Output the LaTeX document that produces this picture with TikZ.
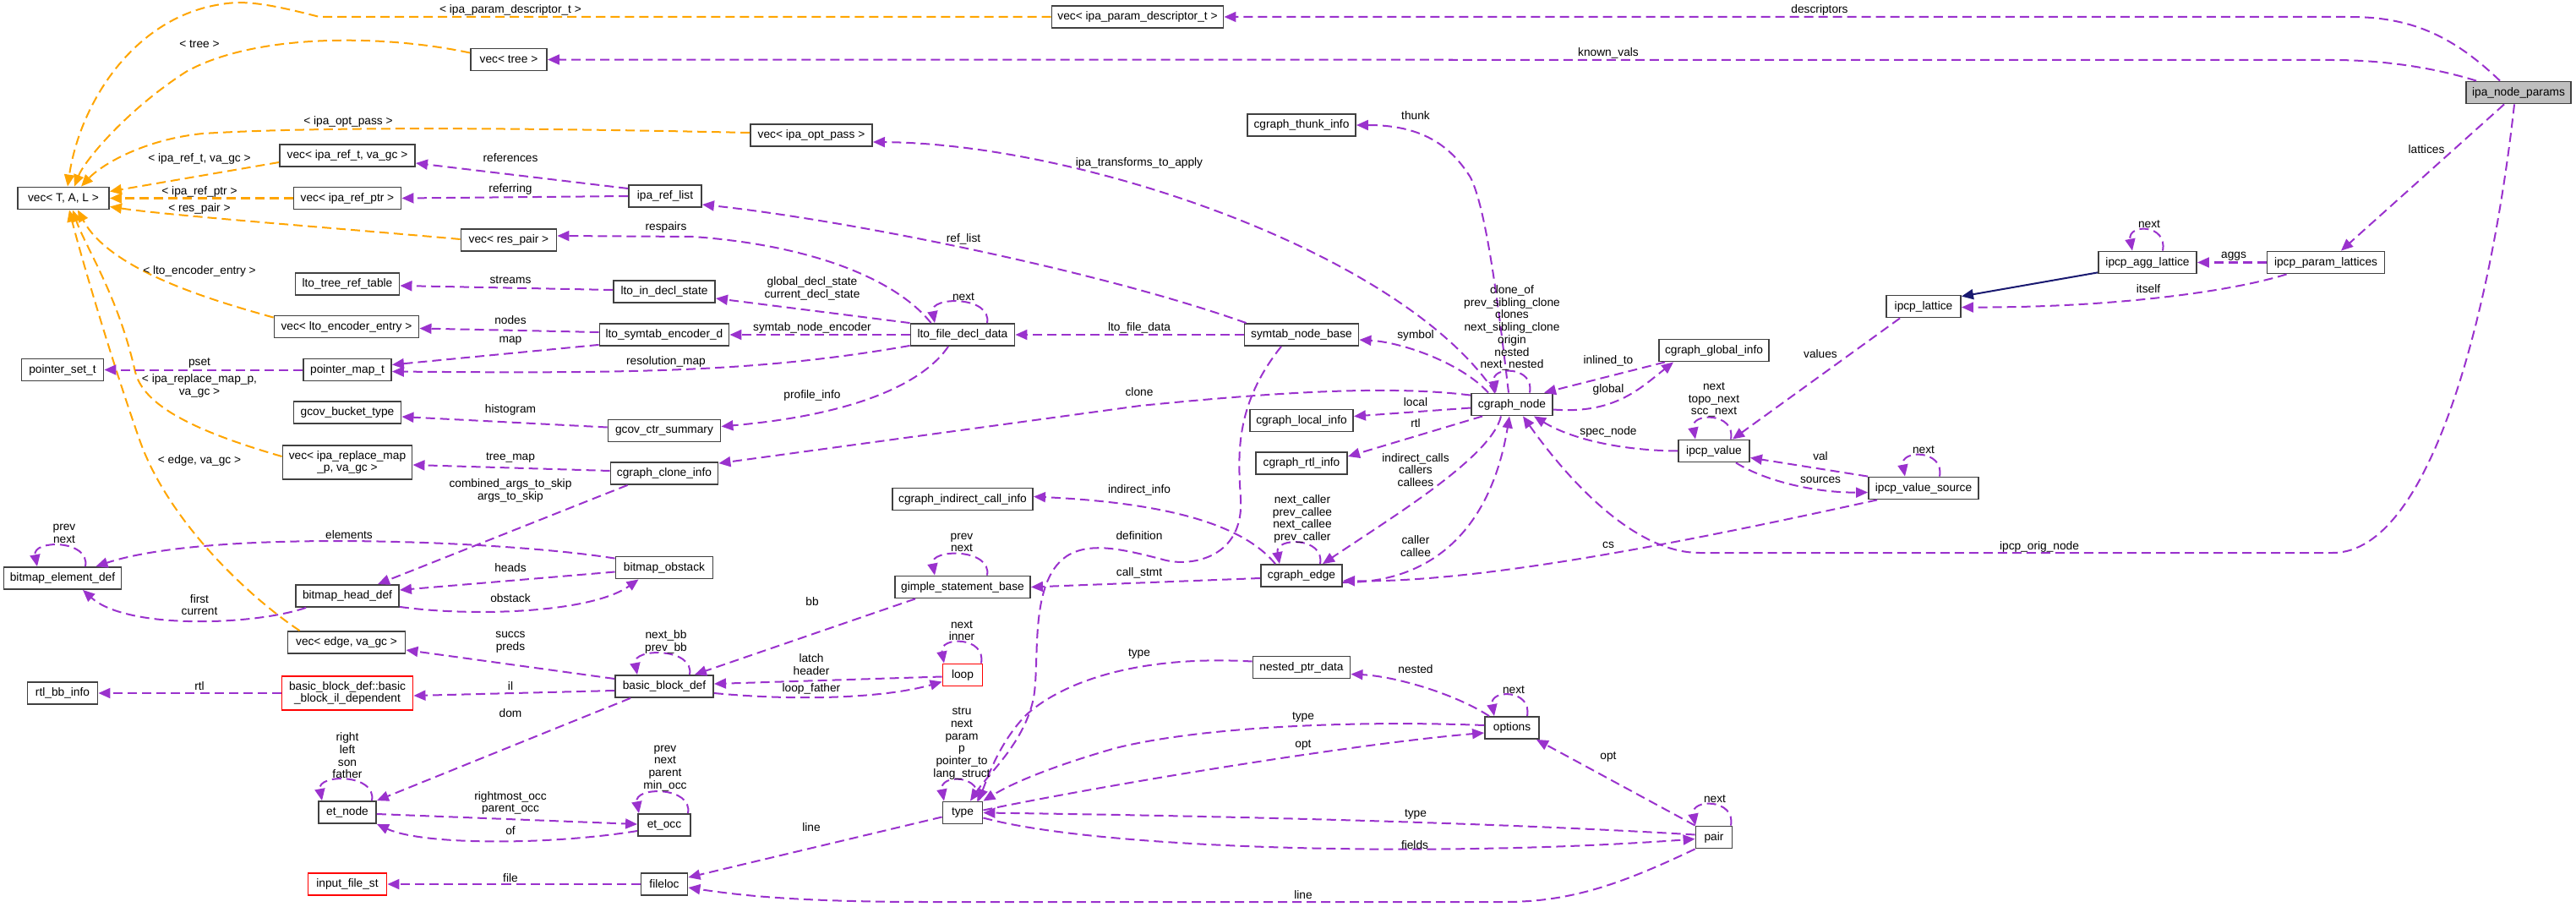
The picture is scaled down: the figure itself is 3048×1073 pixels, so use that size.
\documentclass[tikz,border=0pt]{standalone}
\usepackage{fontspec}
\newfontfamily\dxfont{Liberation Sans}
\usetikzlibrary{arrows.meta,calc}
\definecolor{usecol}{HTML}{9A32CD}
\definecolor{tplcol}{HTML}{FFA500}
\definecolor{inhcol}{HTML}{191970}
\newcommand{\dxsize}{\dxfont\fontsize{3.9}{4.18}\selectfont}

\begin{document}
\begin{tikzpicture}[
    x=0.01cm, y=-0.01cm,
    classbox/.style={draw=black!75, line width=0.018cm, fill=white, font=\dxsize, minimum height=0.26cm, inner sep=0pt, align=center},
    focusbox/.style={classbox, fill=black!25},
    undocbox/.style={classbox, draw=red},
    member/.style={draw=usecol, line width=0.02cm, dash pattern=on 0.11cm off 0.06cm, -{Triangle[length=0.14cm, width=0.12cm]}},
    tmpl/.style={member, draw=tplcol},
    inherit/.style={draw=inhcol, line width=0.02cm, -{Triangle[length=0.14cm, width=0.12cm]}},
    elabel/.style={font=\dxsize, inner sep=0pt, align=center},
  ]
    \useasboundingbox (0,0) rectangle (3048,1073);
    % classes
    \node[focusbox, minimum width=1.24cm] (inp) at (2980,109.5) {ipa\_node\_params};
    \node[classbox, minimum width=2.03cm] (vipd) at (1346,20) {vec< ipa\_param\_descriptor\_t >};
    \node[classbox, minimum width=0.90cm] (vtree) at (602,70.5) {vec< tree >};
    \node[classbox, minimum width=1.08cm] (vtal) at (75,234.5) {vec< T, A, L >};
    \node[classbox, minimum width=1.44cm] (vopt) at (960,160) {vec< ipa\_opt\_pass >};
    \node[classbox, minimum width=1.60cm] (vref) at (411,184) {vec< ipa\_ref\_t, va\_gc >};
    \node[classbox, minimum width=1.27cm] (vrptr) at (411,234.5) {vec< ipa\_ref\_ptr >};
    \node[classbox, minimum width=1.13cm] (vres) at (602,284) {vec< res\_pair >};
    \node[classbox, minimum width=1.23cm] (trt) at (411,336) {lto\_tree\_ref\_table};
    \node[classbox, minimum width=0.86cm] (irl) at (787,232) {ipa\_ref\_list};
    \node[classbox, minimum width=1.20cm] (lids) at (786,345) {lto\_in\_decl\_state};
    \node[classbox, minimum width=1.28cm] (thunk) at (1540,148) {cgraph\_thunk\_info};
    \node[classbox, minimum width=1.16cm] (agg) at (2541,310.5) {ipcp\_agg\_lattice};
    \node[classbox, minimum width=1.39cm] (ppl) at (2752,310.5) {ipcp\_param\_lattices};
    \node[classbox, minimum width=0.88cm] (lat) at (2276,362.5) {ipcp\_lattice};
    \node[classbox, minimum width=1.71cm] (venc) at (410,386.5) {vec< lto\_encoder\_entry >};
    \node[classbox, minimum width=0.97cm] (pset) at (74,437.5) {pointer\_set\_t};
    \node[classbox, minimum width=1.04cm] (pmap) at (411,437.5) {pointer\_map\_t};
    \node[classbox, minimum width=1.27cm] (gbt) at (411,488) {gcov\_bucket\_type};
    \node[classbox, minimum width=1.53cm, minimum height=0.40cm] (vrepl) at (411,547) {vec< ipa\_replace\_map\\\_p, va\_gc >};
    \node[classbox, minimum width=1.39cm] (bed) at (74,684) {bitmap\_element\_def};
    \node[classbox, minimum width=1.22cm] (bhd) at (411,705) {bitmap\_head\_def};
    \node[classbox, minimum width=1.53cm] (lsed) at (786,396) {lto\_symtab\_encoder\_d};
    \node[classbox, minimum width=1.33cm] (gcs) at (786,509.5) {gcov\_ctr\_summary};
    \node[classbox, minimum width=1.27cm] (gci) at (786,560) {cgraph\_clone\_info};
    \node[classbox, minimum width=1.15cm] (bob) at (786,671.5) {bitmap\_obstack};
    \node[classbox, minimum width=1.23cm] (lfdd) at (1139,396) {lto\_file\_decl\_data};
    \node[classbox, minimum width=1.35cm] (snb) at (1540,396) {symtab\_node\_base};
    \node[classbox, minimum width=1.66cm] (icinfo) at (1139,590.5) {cgraph\_indirect\_call\_info};
    \node[classbox, minimum width=1.60cm] (gsb) at (1139,694.5) {gimple\_statement\_base};
    \node[classbox, minimum width=1.22cm] (cli) at (1540,497.5) {cgraph\_local\_info};
    \node[classbox, minimum width=1.08cm] (cri) at (1540,548) {cgraph\_rtl\_info};
    \node[classbox, minimum width=0.96cm] (cedge) at (1540,681) {cgraph\_edge};
    \node[classbox, minimum width=0.96cm] (cnode) at (1789,478.5) {cgraph\_node};
    \node[classbox, minimum width=1.30cm] (cgi) at (2028,414.5) {cgraph\_global\_info};
    \node[classbox, minimum width=0.84cm] (ival) at (2028,533.5) {ipcp\_value};
    \node[classbox, minimum width=1.30cm] (ivs) at (2276,577.5) {ipcp\_value\_source};
    \node[classbox, minimum width=1.39cm] (veg) at (410,760) {vec< edge, va\_gc >};
    \node[classbox, minimum width=0.83cm] (rbi) at (74,820) {rtl\_bb\_info};
    \node[undocbox, minimum width=1.55cm, minimum height=0.40cm] (bbil) at (411,820) {basic\_block\_def::basic\\\_block\_il\_dependent};
    \node[classbox, minimum width=0.68cm] (etn) at (411,961) {et\_node};
    \node[undocbox, minimum width=0.93cm] (ifs) at (411,1046) {input\_file\_st};
    \node[classbox, minimum width=1.16cm] (bbd) at (786,812) {basic\_block\_def};
    \node[classbox, minimum width=0.62cm] (eto) at (786,976) {et\_occ};
    \node[classbox, minimum width=0.55cm] (floc) at (786,1046) {fileloc};
    \node[undocbox, minimum width=0.47cm] (lp) at (1139,798.5) {loop};
    \node[classbox, minimum width=0.47cm] (ty) at (1139,961.5) {type};
    \node[classbox, minimum width=1.15cm] (npd) at (1540,789.5) {nested\_ptr\_data};
    \node[classbox, minimum width=0.64cm] (opts) at (1789,861) {options};
    \node[classbox, minimum width=0.43cm] (pr) at (2028,990.5) {pair};

    % template instances
    \draw[tmpl] (vipd.west) -- (378,20) .. controls (320,5) and (290,0) .. (262,5) .. controls (160,20) and (95,120) .. ($(vtal.north)+(5,0)$);
    \draw[tmpl] ($(vtree.west)+(0,-8)$) .. controls (450,40) and (300,40) .. (220,85) .. controls (150,130) and (100,190) .. ($(vtal.north)+(13,0)$);
    \draw[tmpl] ($(vopt.west)+(0,-3)$) .. controls (700,153) and (400,148) .. (240,158) .. controls (170,165) and (120,195) .. ($(vtal.north)+(21,0)$);
    \draw[tmpl] ($(vref.west)+(0,8)$) -- ($(vtal.east)+(0,-8)$);
    \draw[tmpl] (vrptr.west) -- (vtal.east);
    \draw[tmpl] ($(vres.west)+(0,-1)$) .. controls (400,270) and (200,255) .. ($(vtal.east)+(0,10)$);
    \draw[tmpl] ($(venc.north west)+(0,3)$) .. controls (250,355) and (130,320) .. ($(vtal.south)+(17,0)$);
    \draw[tmpl] ($(vrepl.west)+(0,-7)$) .. controls (230,510) and (170,480) .. (160,440) .. controls (140,350) and (100,290) .. ($(vtal.south)+(11,0)$);
    \draw[tmpl] ($(veg.north west)+(15,0)$) .. controls (300,710) and (200,620) .. (165,520) .. controls (130,420) and (95,300) .. ($(vtal.south)+(7,0)$);

    % ipa_node_params and lattices
    \draw[member] ($(inp.north)+(-22,0)$) .. controls (2900,40) and (2850,20) .. (2780,20) -- (vipd.east);
    \draw[member] ($(inp.north west)+(13,0)$) .. controls (2880,80) and (2820,71) .. (2760,71) -- (vtree.east);
    \draw[member] ($(inp.south)+(-17,0)$) -- ($(ppl.north)+(18,0)$);
    \draw[member] ($(inp.south)+(-5,0)$) .. controls (2950,350) and (2880,654) .. (2760,654) -- (2011,654) .. controls (1930,654) and (1850,560) .. ($(cnode.south)+(13,0)$);
    \draw[member] (ppl.west) -- (agg.east);
    \draw[inherit] ($(agg.south west)+(0,-2)$) -- ($(lat.north east)+(0,2)$);
    \draw[member] ($(ppl.south west)+(24,0)$) .. controls (2640,345) and (2500,364) .. ($(lat.east)+(0,1)$);
    \draw[member] ($(lat.south west)+(17,0)$) -- ($(ival.north)+(22,0)$);
    \draw[member] (ival.west) .. controls (1920,533) and (1860,520) .. ($(cnode.south)+(26,0)$);
    \draw[member] (ivs.north west) -- ($(ival.east)+(0,8)$);
    \draw[member] ($(ival.south east)+(-17,0)$) .. controls (2090,570) and (2150,583) .. ($(ivs.west)+(0,5)$);
    \draw[member] ($(ivs.south west)+(11,0)$) .. controls (2000,640) and (1750,690) .. ($(cedge.east)+(0,6)$);

    % cgraph_node
    \draw[member] ($(cnode.north)+(-4,0)$) .. controls (1775,380) and (1760,250) .. (1740,210) .. controls (1715,170) and (1680,148) .. (thunk.east);
    \draw[member] ($(cnode.north)+(-20,0)$) .. controls (1660,300) and (1280,170) .. ($(vopt.east)+(0,8)$);
    \draw[member] ($(cnode.north)+(-28,0)$) .. controls (1730,430) and (1660,405) .. ($(snb.east)+(0,6)$);
    \draw[member] ($(cgi.south west)+(8,0)$) -- ($(cnode.north)+(38,0)$);
    \draw[member] ($(cnode.east)+(0,6)$) .. controls (1910,490) and (1940,460) .. ($(cgi.south west)+(18,0)$);
    \draw[member] ($(cnode.west)+(0,4)$) -- ($(cli.east)+(0,-5)$);
    \draw[member] ($(cnode.south west)+(14,0)$) -- ($(cri.east)+(0,-8)$);
    \draw[member] ($(cnode.south)+(-13,0)$) .. controls (1765,540) and (1650,610) .. ($(cedge.north)+(25,0)$);
    \draw[member] ($(cedge.east)+(0,8)$) .. controls (1700,690) and (1765,620) .. ($(cnode.south)+(-3,0)$);
    \draw[member] ($(cnode.north west)+(0,3)$) .. controls (1640,455) and (1500,465) .. (1349,480) -- ($(gci.north east)+(0,2)$);
    \draw[member] ($(cedge.north west)+(18,0)$) .. controls (1470,620) and (1380,595) .. ($(icinfo.east)+(0,-3)$);
    \draw[member] ($(cedge.west)+(0,3)$) -- (gsb.east);

    % symtab_node_base and lto
    \draw[member] (snb.west) -- (lfdd.east);
    \draw[member] ($(snb.north west)+(3,0)$) .. controls (1300,320) and (1000,260) .. ($(irl.east)+(0,10)$);
    \draw[member] ($(snb.south)+(-24,0)$) .. controls (1460,480) and (1465,540) .. (1468,590) .. controls (1472,660) and (1410,670) .. (1380,663) .. controls (1330,650) and (1290,640) .. (1262,658) .. controls (1215,690) and (1232,790) .. (1222,830) .. controls (1210,880) and (1170,915) .. ($(ty.north)+(9,0)$);
    \draw[member] (lfdd.north west) -- ($(lids.east)+(0,8)$);
    \draw[member] (lfdd.west) -- (lsed.east);
    \draw[member] ($(lfdd.south west)+(0,-1)$) .. controls (900,440) and (750,442) .. ($(pmap.east)+(0,2)$);
    \draw[member] ($(lfdd.south)+(-17,0)$) .. controls (1095,450) and (1020,490) .. ($(gcs.east)+(0,-5)$);
    \draw[member] ($(lfdd.north west)+(25,0)$) .. controls (1060,330) and (960,290) .. (820,280) -- ($(vres.east)+(0,-5)$);
    \draw[member] ($(lids.west)+(0,-2)$) -- ($(trt.east)+(0,2)$);
    \draw[member] ($(irl.west)+(0,-9)$) -- ($(vref.east)+(0,9)$);
    \draw[member] (irl.west) -- (vrptr.east);
    \draw[member] ($(lsed.west)+(0,-3)$) -- ($(venc.east)+(0,2)$);
    \draw[member] ($(lsed.south west)+(0,-2)$) -- ($(pmap.east)+(0,-6)$);
    \draw[member] (pmap.west) -- (pset.east);
    \draw[member] ($(gcs.west)+(0,-4)$) -- ($(gbt.east)+(0,5)$);
    \draw[member] ($(gci.west)+(0,-3)$) -- ($(vrepl.east)+(0,3)$);
    \draw[member] ($(gci.south west)+(21,0)$) -- ($(bhd.north)+(36,0)$);

    % bitmaps
    \draw[member] ($(bob.north west)+(0,3)$) .. controls (600,640) and (250,625) .. ($(bed.north east)+(-31,0)$);
    \draw[member] ($(bob.west)+(0,5)$) -- ($(bhd.east)+(0,-7)$);
    \draw[member] ($(bhd.south east)+(0,-1)$) .. controls (560,730) and (700,725) .. ($(bob.south west)+(28,0)$);
    \draw[member] ($(bhd.south west)+(13,0)$) .. controls (300,740) and (150,745) .. ($(bed.south)+(24,0)$);

    % basic blocks, loops, dominance
    \draw[member] ($(gsb.south west)+(25,0)$) -- ($(bbd.north east)+(-23,0)$);
    \draw[member] ($(bbd.west)+(0,-9)$) -- ($(veg.east)+(0,9)$);
    \draw[member] ($(bbd.west)+(0,5)$) -- ($(bbil.east)+(0,3)$);
    \draw[member] ($(bbd.south west)+(19,0)$) -- (etn.north east);
    \draw[member] (bbil.west) -- (rbi.east);
    \draw[member] ($(lp.west)+(0,2)$) -- ($(bbd.east)+(0,-3)$);
    \draw[member] ($(bbd.east)+(0,8)$) .. controls (950,830) and (1050,825) .. ($(lp.west)+(0,8)$);
    \draw[member] ($(etn.east)+(0,2)$) -- ($(eto.west)+(0,-1)$);
    \draw[member] ($(eto.west)+(0,7)$) .. controls (650,1000) and (500,1000) .. (etn.south east);

    % gengtype
    \draw[member] (floc.west) -- (ifs.east);
    \draw[member] ($(ty.west)+(0,5)$) -- ($(floc.east)+(0,-8)$);
    \draw[member] (pr.south west) .. controls (1920,1045) and (1860,1067) .. (1780,1067) -- (1100,1067) .. controls (950,1067) and (880,1060) .. ($(floc.east)+(0,4)$);
    \draw[member] ($(npd.west)+(0,-7)$) .. controls (1350,775) and (1260,805) .. (1215,845) .. controls (1185,875) and (1170,915) .. ($(ty.north)+(19,0)$);
    \draw[member] ($(opts.north west)+(6,0)$) .. controls (1720,820) and (1650,800) .. ($(npd.east)+(0,8)$);
    \draw[member] ($(opts.west)+(0,-3)$) .. controls (1600,852) and (1420,860) .. (1320,885) .. controls (1250,905) and (1200,925) .. (ty.north east);
    \draw[member] ($(ty.east)+(0,-3)$) .. controls (1300,930) and (1600,880) .. ($(opts.west)+(0,6)$);
    \draw[member] (pr.north west) -- ($(opts.south east)+(-4,0)$);
    \draw[member] ($(pr.west)+(0,-3)$) .. controls (1800,975) and (1500,966) .. (ty.east);
    \draw[member] ($(ty.east)+(0,6)$) .. controls (1300,1005) and (1700,1015) .. ($(pr.west)+(0,2)$);

    % self references
    \foreach \n/\r/\l in {agg/18/18, lfdd/29/33, gsb/29/33, cnode/21/19, ival/20/22, ivs/19/22, bed/27/30, bbd/30/32, lp/22/22, ty/18/22, eto/28/30, etn/29/30, opts/18/21, pr/20/22, cedge/22/26}
      \draw[member] ($(\n.north)+(\r,0)$) .. controls +(6,-32) and +(-6,-32) .. ($(\n.north)+(-\l,0)$);

    % edge labels
    \node[elabel] (l-pdt) at (604,12) {< ipa\_param\_descriptor\_t >};
    \node[elabel] (l-tree) at (236,52) {< tree >};
    \node[elabel] (l-opt) at (412,144) {< ipa\_opt\_pass >};
    \node[elabel] (l-reft) at (236,188) {< ipa\_ref\_t, va\_gc >};
    \node[elabel] (l-refp) at (236,227) {< ipa\_ref\_ptr >};
    \node[elabel] (l-resp) at (236,247) {< res\_pair >};
    \node[elabel] (l-enc) at (236,321) {< lto\_encoder\_entry >};
    \node[elabel] (l-repl) at (236,456.5) {< ipa\_replace\_map\_p,\\va\_gc >};
    \node[elabel] (l-edge) at (236,545) {< edge, va\_gc >};
    \node[elabel] (l-descr) at (2153,12) {descriptors};
    \node[elabel] (l-known) at (1903,63) {known\_vals};
    \node[elabel] (l-latt) at (2871,177) {lattices};
    \node[elabel] (l-aggs) at (2643,303) {aggs};
    \node[elabel] (l-aggnext) at (2543,265) {next};
    \node[elabel] (l-itself) at (2542,342) {itself};
    \node[elabel] (l-orig) at (2413,647) {ipcp\_orig\_node};
    \node[elabel] (l-values) at (2154,419) {values};
    \node[elabel] (l-ivnext) at (2028,473) {next\\topo\_next\\scc\_next};
    \node[elabel] (l-spec) at (1903,511) {spec\_node};
    \node[elabel] (l-val) at (2154,540) {val};
    \node[elabel] (l-src) at (2154,568) {sources};
    \node[elabel] (l-srcnext) at (2276,532) {next};
    \node[elabel] (l-cs) at (1903,645) {cs};
    \node[elabel] (l-thunk) at (1675,137) {thunk};
    \node[elabel] (l-cnloop) at (1789,388) {clone\_of\\prev\_sibling\_clone\\clones\\next\_sibling\_clone\\origin\\nested\\next\_nested};
    \node[elabel] (l-transf) at (1348,193) {ipa\_transforms\_to\_apply};
    \node[elabel] (l-symbol) at (1675,397) {symbol};
    \node[elabel] (l-inl) at (1903,427) {inlined\_to};
    \node[elabel] (l-global) at (1903,461) {global};
    \node[elabel] (l-local) at (1675,476) {local};
    \node[elabel] (l-crtl) at (1675,501) {rtl};
    \node[elabel] (l-calls) at (1675,556) {indirect\_calls\\callers\\callees};
    \node[elabel] (l-caller) at (1675,646) {caller\\callee};
    \node[elabel] (l-celoop) at (1541,614) {next\_caller\\prev\_callee\\next\_callee\\prev\_caller};
    \node[elabel] (l-indinfo) at (1348,580) {indirect\_info};
    \node[elabel] (l-defn) at (1348,634) {definition};
    \node[elabel] (l-callst) at (1348,678) {call\_stmt};
    \node[elabel] (l-gsloop) at (1138,642) {prev\\next};
    \node[elabel] (l-filedata) at (1348,388) {lto\_file\_data};
    \node[elabel] (l-reflist) at (1140,283) {ref\_list};
    \node[elabel] (l-respairs) at (788,269) {respairs};
    \node[elabel] (l-lfnext) at (1140,351) {next};
    \node[elabel] (l-decl) at (961,341.5) {global\_decl\_state\\current\_decl\_state};
    \node[elabel] (l-symenc) at (961,388) {symtab\_node\_encoder};
    \node[elabel] (l-resmap) at (788,428) {resolution\_map};
    \node[elabel] (l-prof) at (961,468) {profile\_info};
    \node[elabel] (l-clone) at (1348,464) {clone};
    \node[elabel] (l-refs) at (604,187) {references};
    \node[elabel] (l-referr) at (604,224) {referring};
    \node[elabel] (l-streams) at (604,331) {streams};
    \node[elabel] (l-nodes) at (604,379) {nodes};
    \node[elabel] (l-map) at (604,403) {map};
    \node[elabel] (l-pset) at (236,429) {pset};
    \node[elabel] (l-hist) at (604,485) {histogram};
    \node[elabel] (l-treemap) at (604,541) {tree\_map};
    \node[elabel] (l-args) at (604,580.5) {combined\_args\_to\_skip\\args\_to\_skip};
    \node[elabel] (l-elem) at (413,633) {elements};
    \node[elabel] (l-bedloop) at (76,631.5) {prev\\next};
    \node[elabel] (l-heads) at (604,672) {heads};
    \node[elabel] (l-obst) at (604,708) {obstack};
    \node[elabel] (l-first) at (236,715.5) {first\\current};
    \node[elabel] (l-bb) at (961,712) {bb};
    \node[elabel] (l-bbloop) at (788,759.5) {next\_bb\\prev\_bb};
    \node[elabel] (l-succ) at (604,759.5) {succs\\preds};
    \node[elabel] (l-il) at (604,812) {il};
    \node[elabel] (l-rtl) at (236,812) {rtl};
    \node[elabel] (l-dom) at (604,844) {dom};
    \node[elabel] (l-etloop) at (411,894) {right\\left\\son\\father};
    \node[elabel] (l-occ) at (604,950) {rightmost\_occ\\parent\_occ};
    \node[elabel] (l-ocloop) at (787,909) {prev\\next\\parent\\min\_occ};
    \node[elabel] (l-of) at (604,983) {of};
    \node[elabel] (l-file) at (604,1039) {file};
    \node[elabel] (l-latch) at (960,786) {latch\\header};
    \node[elabel] (l-lfath) at (960,815) {loop\_father};
    \node[elabel] (l-lploop) at (1138,746) {next\\inner};
    \node[elabel] (l-tyloop) at (1138,879.5) {stru\\next\\param\\p\\pointer\_to\\lang\_struct};
    \node[elabel] (l-nptype) at (1348,773) {type};
    \node[elabel] (l-tyline) at (960,979) {line};
    \node[elabel] (l-nested) at (1675,792) {nested};
    \node[elabel] (l-opnext) at (1791,816) {next};
    \node[elabel] (l-optype) at (1542,848) {type};
    \node[elabel] (l-tyopt) at (1542,881) {opt};
    \node[elabel] (l-propt) at (1903,895) {opt};
    \node[elabel] (l-prnext) at (2029,945) {next};
    \node[elabel] (l-prtype) at (1675,963) {type};
    \node[elabel] (l-fields) at (1674,1000) {fields};
    \node[elabel] (l-prline) at (1542,1059) {line};
\end{tikzpicture}
\end{document}
